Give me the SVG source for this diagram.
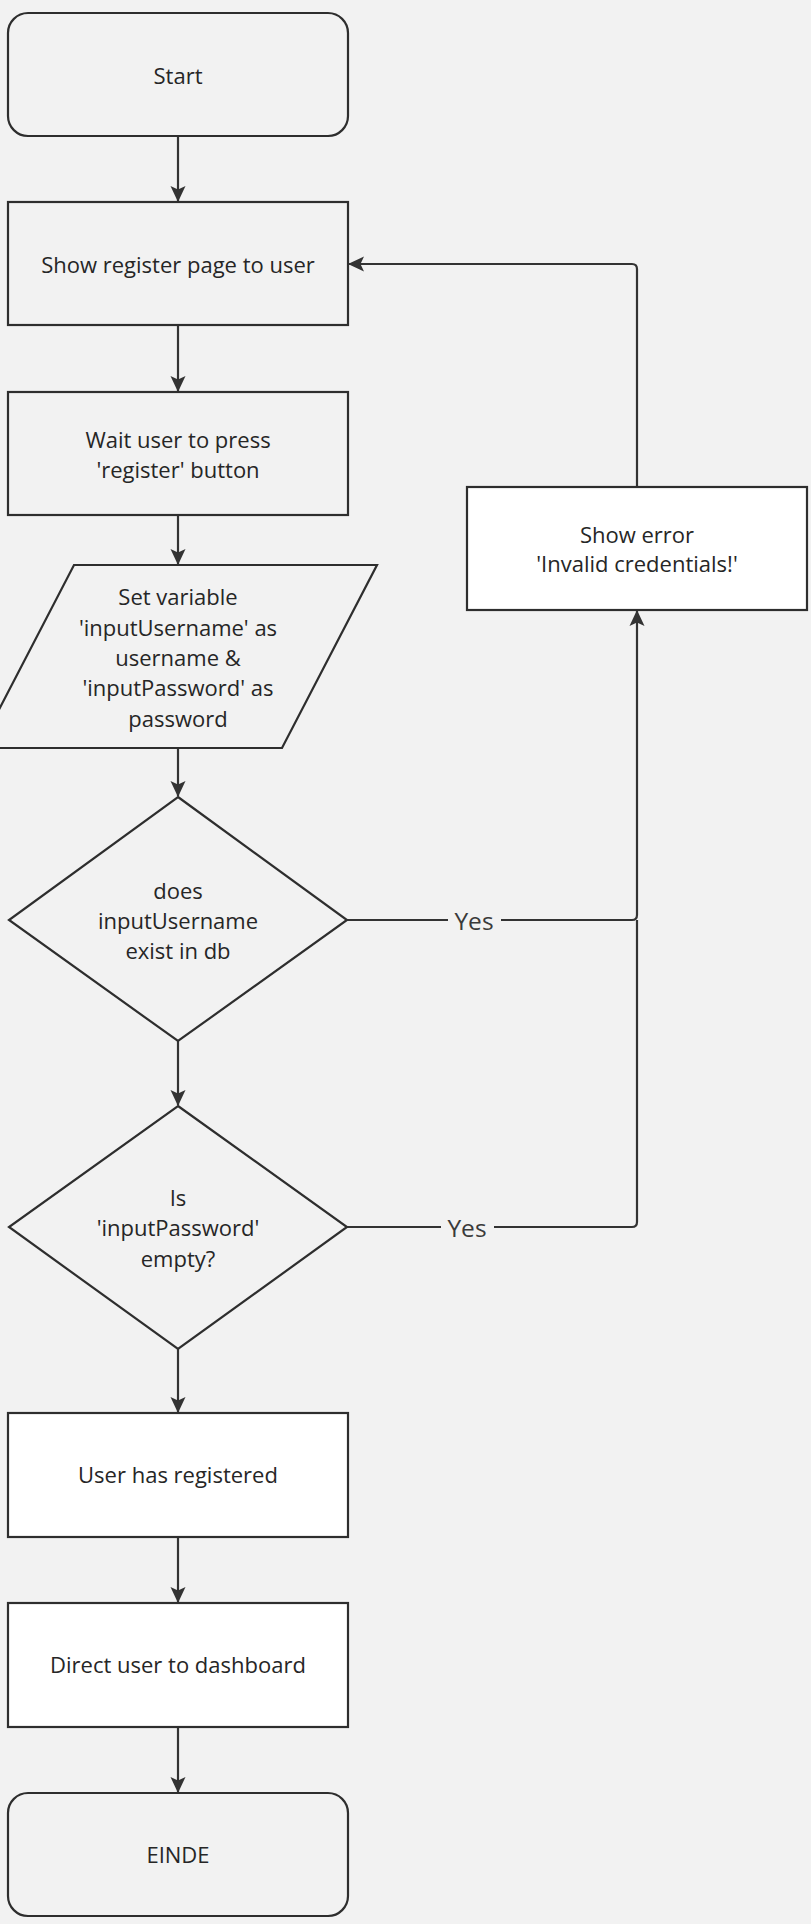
<svg xmlns="http://www.w3.org/2000/svg" width="811" height="1924" viewBox="0 0 811 1924">
<defs>
<style>
.shape{stroke:#2e2e2e;stroke-width:2.2;}
.bgfill{fill:#f2f2f2;}
.white{fill:#ffffff;}
.t{font-family:"Open Sans","Noto Sans","Liberation Sans",sans-serif;font-size:22px;fill:#262626;text-anchor:middle;dominant-baseline:central;}
.lbl{font-family:"Open Sans","Noto Sans","Liberation Sans",sans-serif;font-size:24.5px;fill:#3a3a3a;text-anchor:middle;dominant-baseline:central;}
.edge{fill:none;stroke:#333333;stroke-width:2.2;}
</style>
<marker id="arr" markerUnits="userSpaceOnUse" markerWidth="18" markerHeight="18" viewBox="0 0 18 18" refX="16" refY="9" orient="auto">
<path d="M1,1.5 L17,9 L1,16.5 L4.5,9 z" fill="#333333"/>
</marker>
</defs>
<rect x="0" y="0" width="811" height="1924" fill="#f2f2f2"/>

<g id="connectors">
<path class="edge" d="M178,136 L178,201" marker-end="url(#arr)"/>
<path class="edge" d="M178,325 L178,391" marker-end="url(#arr)"/>
<path class="edge" d="M178,515 L178,564" marker-end="url(#arr)"/>
<path class="edge" d="M178,748 L178,796" marker-end="url(#arr)"/>
<path class="edge" d="M178,1041 L178,1105" marker-end="url(#arr)"/>
<path class="edge" d="M178,1349 L178,1412" marker-end="url(#arr)"/>
<path class="edge" d="M178,1537 L178,1602" marker-end="url(#arr)"/>
<path class="edge" d="M178,1727 L178,1792" marker-end="url(#arr)"/>
<path class="edge" d="M637,487 L637,269 Q637,264 632,264 L349,264" marker-end="url(#arr)"/>
<path class="edge" d="M347,920 L448,920 M501,920 L632,920 Q637,920 637,915 L637,611" marker-end="url(#arr)"/>
<path class="edge" d="M347,1227 L441,1227 M494,1227 L632,1227 Q637,1227 637,1222 L637,920"/>
<text class="lbl" x="474" y="920">Yes</text>
<text class="lbl" x="467" y="1227">Yes</text>
</g>

<g id="start">
<rect class="shape bgfill" x="8" y="13" width="340" height="123" rx="20" ry="20"/>
<text class="t" x="178" y="75">Start</text>
</g>

<g id="show-register">
<rect class="shape bgfill" x="8" y="202" width="340" height="123"/>
<text class="t" x="178" y="264">Show register page to user</text>
</g>

<g id="wait-user">
<rect class="shape bgfill" x="8" y="392" width="340" height="123"/>
<text class="t" x="178" y="439">Wait user to press</text>
<text class="t" x="178" y="469">'register' button</text>
</g>

<g id="set-variable">
<polygon class="shape bgfill" points="74,565 377,565 282,748 -21,748"/>
<text class="t" x="178" y="596">Set variable</text>
<text class="t" x="178" y="627">'inputUsername' as</text>
<text class="t" x="178" y="657">username &amp;</text>
<text class="t" x="178" y="687">'inputPassword' as</text>
<text class="t" x="178" y="718">password</text>
</g>

<g id="show-error">
<rect class="shape white" x="467" y="487" width="340" height="123"/>
<text class="t" x="637" y="534">Show error</text>
<text class="t" x="637" y="563">'Invalid credentials!'</text>
</g>

<g id="username-exists">
<polygon class="shape bgfill" points="178,797 347,920 178,1041 9,920"/>
<text class="t" x="178" y="890">does</text>
<text class="t" x="178" y="920">inputUsername</text>
<text class="t" x="178" y="950">exist in db</text>
</g>

<g id="password-empty">
<polygon class="shape bgfill" points="178,1106 347,1227 178,1349 9,1227"/>
<text class="t" x="178" y="1197">Is</text>
<text class="t" x="178" y="1227">'inputPassword'</text>
<text class="t" x="178" y="1258">empty?</text>
</g>

<g id="user-registered">
<rect class="shape white" x="8" y="1413" width="340" height="124"/>
<text class="t" x="178" y="1474">User has registered</text>
</g>

<g id="direct-dashboard">
<rect class="shape white" x="8" y="1603" width="340" height="124"/>
<text class="t" x="178" y="1664">Direct user to dashboard</text>
</g>

<g id="einde">
<rect class="shape bgfill" x="8" y="1793" width="340" height="123" rx="20" ry="20"/>
<text class="t" x="178" y="1854">EINDE</text>
</g>
</svg>
